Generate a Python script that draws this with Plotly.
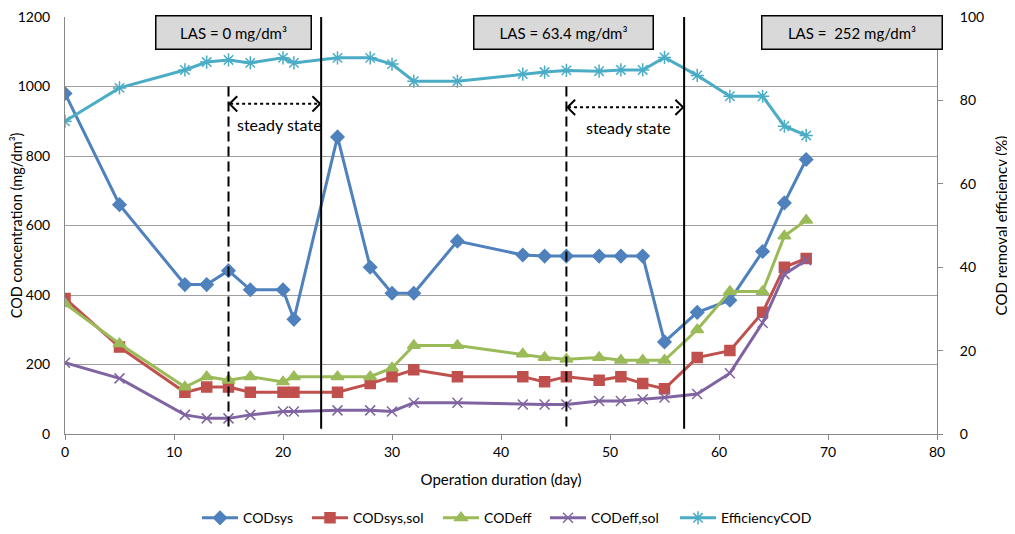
import plotly.graph_objects as go

days = [0, 5, 11, 13, 15, 17, 20, 21, 25, 28, 30, 32, 36, 42, 44, 46, 49, 51, 53, 55, 58, 61, 64, 66, 68]
cod_sys = [980, 660, 430, 430, 470, 415, 415, 330, 855, 480, 405, 405, 555, 515, 512, 512, 512, 512, 512, 265, 350, 385, 525, 665, 790]
cod_sys_sol = [390, 250, 120, 135, 135, 120, 120, 120, 120, 145, 165, 185, 165, 165, 150, 165, 155, 165, 145, 130, 220, 240, 350, 480, 505]
cod_eff = [375, 260, 135, 165, 155, 165, 150, 165, 165, 165, 190, 255, 255, 230, 220, 215, 220, 212, 212, 212, 300, 410, 410, 570, 615]
cod_eff_sol = [205, 160, 55, 45, 45, 55, 65, 65, 68, 68, 65, 90, 90, 85, 85, 85, 95, 95, 100, 105, 115, 175, 320, 460, 500]
efficiency = [75, 83, 87.3, 89.2, 89.7, 89, 90.2, 89, 90.2, 90.2, 88.7, 84.6, 84.6, 86.3, 86.8, 87.2, 87, 87.3, 87.3, 90.3, 86, 81, 81, 73.8, 71.6]

x_ticks = [0, 10, 20, 30, 40, 50, 60, 70, 80]
y_ticks = [0, 200, 400, 600, 800, 1000, 1200]
y2_ticks = [0, 20, 40, 60, 80, 100]

dashed_lines = [15, 46]
solid_lines = [23.5, 56.8]
steady_ranges = [(15, 23.5, 950), (46, 56.8, 940)]
steady_text_pos = [(19.7, 890), (51.7, 882)]
las_labels = ["LAS = 0 mg/dm³", "LAS = 63.4 mg/dm³", "LAS =  252 mg/dm³"]
las_centers = [15.5, 45.7, 72.2]
las_widths = [140, 164, 165]

FONT = "Lato"
W, H = 1007, 526  # page body adds 8px offset
fig = go.Figure()

series = [
    ("CODsys", cod_sys, "#4F81BD", "diamond", 10, "y"),
    ("CODsys,sol", cod_sys_sol, "#C0504D", "square", 10, "y"),
    ("CODeff", cod_eff, "#9BBB59", "triangle-up", 11, "y"),
    ("CODeff,sol", cod_eff_sol, "#8064A2", "x-thin-open", 10, "y"),
    ("EfficiencyCOD", efficiency, "#4BACC6", "asterisk-open", 11, "y2"),
]
legend_names = ["legend", "legend2", "legend3", "legend4", "legend5"]
legend_x_px = [189, 299, 430, 537, 667]

for (name, vals, col, sym, sz, ax), lg in zip(series, legend_names):
    fig.add_trace(go.Scatter(
        x=days, y=vals, name=name, mode="lines+markers", yaxis=ax, legend=lg,
        line=dict(color=col, width=3),
        marker=dict(symbol=sym, size=sz, color=col, line=dict(color=col, width=1.5)),
    ))

shapes = []
for xv in dashed_lines:
    shapes.append(dict(type="line", xref="x", yref="y", x0=xv, x1=xv, y0=1000, y1=18,
                       line=dict(color="black", width=2, dash="10px,5px")))
for xv in solid_lines:
    shapes.append(dict(type="line", xref="x", yref="y", x0=xv, x1=xv, y0=1200, y1=15,
                       line=dict(color="black", width=2)))
annotations = []
for (x0, x1, yv), (tx, ty) in zip(steady_ranges, steady_text_pos):
    shapes.append(dict(type="line", xref="x", yref="y", x0=x0 + 0.15, x1=x1 - 0.15, y0=yv, y1=yv,
                       line=dict(color="black", width=2, dash="dot")))
    shapes.append(dict(type="path", xref="x", yref="y",
                       path=f"M {x0+0.8},{yv+22} L {x0+0.1},{yv} L {x0+0.8},{yv-22}",
                       line=dict(color="black", width=2)))
    shapes.append(dict(type="path", xref="x", yref="y",
                       path=f"M {x1-0.8},{yv+22} L {x1-0.1},{yv} L {x1-0.8},{yv-22}",
                       line=dict(color="black", width=2)))
    annotations.append(dict(x=tx, y=ty, xref="x", yref="y", text="steady state",
                            showarrow=False, font=dict(family=FONT, size=16, color="black")))

for txt, cx, wd in zip(las_labels, las_centers, las_widths):
    annotations.append(dict(x=cx, y=1200, xref="x", yref="y", yanchor="middle", yshift=-15,
                            text=txt, showarrow=False, bgcolor="#D9D9D9", bordercolor="black",
                            borderwidth=1.5, borderpad=7, width=wd,
                            font=dict(family=FONT, size=15, color="black")))

legends = {}
for lg, px in zip(legend_names, legend_x_px):
    legends[lg] = dict(orientation="h", x=px / W, xanchor="left", xref="container",
                       y=0.030, yanchor="middle", yref="container",
                       font=dict(family=FONT, size=14), itemwidth=36,
                       bgcolor="rgba(0,0,0,0)", borderwidth=0)

fig.update_layout(
    width=W, height=H,
    margin=dict(l=57, r=78, t=9, b=100, autoexpand=False),
    paper_bgcolor="white", plot_bgcolor="white",
    font=dict(family=FONT, size=14, color="black"),
    showlegend=True,
    xaxis=dict(range=[0, 80], tickvals=x_ticks, showgrid=False, zeroline=False, automargin=False,
               showline=True, linecolor="#888888", linewidth=1, ticks="outside",
               ticklen=5, tickcolor="#888888", ticklabeloverflow="allow",
               title=dict(text="Operation duration (day)", font=dict(size=15), standoff=15)),
    yaxis=dict(range=[0, 1200], tickvals=y_ticks, showgrid=True, gridcolor="#a0a0a0",
               gridwidth=1, zeroline=False, showline=True, linecolor="#888888", automargin=False,
               ticks="", ticklabelstandoff=11, ticklabeloverflow="allow",
               title=dict(text="COD concentration (mg/dm³)", font=dict(size=14.5), standoff=5)),
    yaxis2=dict(range=[0, 100], tickvals=y2_ticks, overlaying="y", side="right",
                showgrid=False, zeroline=False, showline=True, linecolor="#888888", automargin=False,
                ticks="outside", ticklen=5, tickcolor="#888888", ticklabelstandoff=14,
                ticklabeloverflow="allow",
                title=dict(text="COD removal efficiency (%)", font=dict(size=15), standoff=13)),
    shapes=shapes,
    annotations=annotations,
    **legends,
)

fig.write_html("out.html")
